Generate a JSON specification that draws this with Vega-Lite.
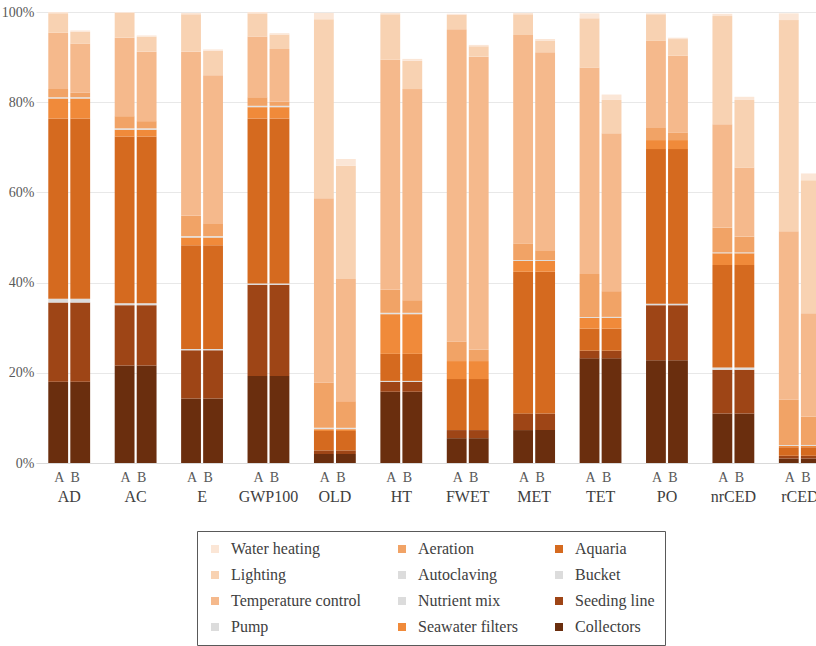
{
  "$schema": "https://vega.github.io/schema/vega-lite/v6.json",
  "autosize": {"type": "none"},
  "padding": {"left": 36, "top": 12, "right": 0, "bottom": 183},
  "width": 797,
  "height": 451,
  "config": {"view": {"stroke": null}, "font": "Liberation Serif"},
  "datasets": {
    "ord": [
      {"comp": "Collectors", "k": 1},
      {"comp": "Seeding line", "k": 2},
      {"comp": "Bucket", "k": 3},
      {"comp": "Aquaria", "k": 4},
      {"comp": "Seawater filters", "k": 5},
      {"comp": "Nutrient mix", "k": 6},
      {"comp": "Autoclaving", "k": 7},
      {"comp": "Aeration", "k": 8},
      {"comp": "Pump", "k": 9},
      {"comp": "Temperature control", "k": 10},
      {"comp": "Lighting", "k": 11},
      {"comp": "Water heating", "k": 12}
    ]
  },
  "data": {
    "values": [
      {"cat": "AD", "scen": "A", "Collectors": 18.0, "Seeding line": 17.6, "Bucket": 0.8, "Aquaria": 40.0, "Seawater filters": 4.4, "Nutrient mix": 0.2, "Autoclaving": 0.1, "Aeration": 1.8, "Pump": 0, "Temperature control": 12.5, "Lighting": 4.3, "Water heating": 0.3},
      {"cat": "AD", "scen": "B", "Collectors": 18.0, "Seeding line": 17.6, "Bucket": 0.8, "Aquaria": 40.0, "Seawater filters": 4.4, "Nutrient mix": 0.2, "Autoclaving": 0.1, "Aeration": 1.0, "Pump": 0, "Temperature control": 10.9, "Lighting": 2.6, "Water heating": 0.3},
      {"cat": "AC", "scen": "A", "Collectors": 21.6, "Seeding line": 13.4, "Bucket": 0.4, "Aquaria": 37.0, "Seawater filters": 1.5, "Nutrient mix": 0.2, "Autoclaving": 0.1, "Aeration": 2.7, "Pump": 0, "Temperature control": 17.4, "Lighting": 5.5, "Water heating": 0.2},
      {"cat": "AC", "scen": "B", "Collectors": 21.6, "Seeding line": 13.4, "Bucket": 0.4, "Aquaria": 37.0, "Seawater filters": 1.5, "Nutrient mix": 0.2, "Autoclaving": 0.1, "Aeration": 1.6, "Pump": 0, "Temperature control": 15.4, "Lighting": 3.3, "Water heating": 0.3},
      {"cat": "E", "scen": "A", "Collectors": 14.3, "Seeding line": 10.7, "Bucket": 0.3, "Aquaria": 23.0, "Seawater filters": 1.7, "Nutrient mix": 0.2, "Autoclaving": 0.1, "Aeration": 4.5, "Pump": 0, "Temperature control": 36.4, "Lighting": 8.3, "Water heating": 0.3},
      {"cat": "E", "scen": "B", "Collectors": 14.3, "Seeding line": 10.7, "Bucket": 0.3, "Aquaria": 23.0, "Seawater filters": 1.7, "Nutrient mix": 0.2, "Autoclaving": 0.1, "Aeration": 2.7, "Pump": 0, "Temperature control": 33.0, "Lighting": 5.4, "Water heating": 0.3},
      {"cat": "GWP100", "scen": "A", "Collectors": 19.3, "Seeding line": 20.2, "Bucket": 0.3, "Aquaria": 36.6, "Seawater filters": 2.5, "Nutrient mix": 0.2, "Autoclaving": 0.1, "Aeration": 1.9, "Pump": 0, "Temperature control": 13.4, "Lighting": 5.2, "Water heating": 0.3},
      {"cat": "GWP100", "scen": "B", "Collectors": 19.3, "Seeding line": 20.2, "Bucket": 0.3, "Aquaria": 36.6, "Seawater filters": 2.5, "Nutrient mix": 0.2, "Autoclaving": 0.1, "Aeration": 0.9, "Pump": 0, "Temperature control": 11.7, "Lighting": 3.2, "Water heating": 0.3},
      {"cat": "OLD", "scen": "A", "Collectors": 2.0, "Seeding line": 0.8, "Bucket": 0, "Aquaria": 4.3, "Seawater filters": 0.4, "Nutrient mix": 0.2, "Autoclaving": 0.1, "Aeration": 10.0, "Pump": 0, "Temperature control": 40.9, "Lighting": 39.7, "Water heating": 1.4},
      {"cat": "OLD", "scen": "B", "Collectors": 2.0, "Seeding line": 0.8, "Bucket": 0, "Aquaria": 4.3, "Seawater filters": 0.4, "Nutrient mix": 0.2, "Autoclaving": 0.1, "Aeration": 5.9, "Pump": 0, "Temperature control": 27.1, "Lighting": 25.1, "Water heating": 1.5},
      {"cat": "HT", "scen": "A", "Collectors": 15.8, "Seeding line": 2.2, "Bucket": 0.2, "Aquaria": 6.0, "Seawater filters": 8.8, "Nutrient mix": 0.2, "Autoclaving": 0.1, "Aeration": 5.1, "Pump": 0, "Temperature control": 51.0, "Lighting": 10.1, "Water heating": 0.3},
      {"cat": "HT", "scen": "B", "Collectors": 15.8, "Seeding line": 2.2, "Bucket": 0.2, "Aquaria": 6.0, "Seawater filters": 8.8, "Nutrient mix": 0.2, "Autoclaving": 0.1, "Aeration": 2.8, "Pump": 0, "Temperature control": 46.8, "Lighting": 6.3, "Water heating": 0.4},
      {"cat": "FWET", "scen": "A", "Collectors": 5.5, "Seeding line": 1.8, "Bucket": 0, "Aquaria": 11.3, "Seawater filters": 4.0, "Nutrient mix": 0, "Autoclaving": 0, "Aeration": 4.3, "Pump": 0, "Temperature control": 69.3, "Lighting": 3.2, "Water heating": 0.2},
      {"cat": "FWET", "scen": "B", "Collectors": 5.5, "Seeding line": 1.8, "Bucket": 0, "Aquaria": 11.3, "Seawater filters": 4.0, "Nutrient mix": 0, "Autoclaving": 0, "Aeration": 2.5, "Pump": 0, "Temperature control": 65.0, "Lighting": 2.3, "Water heating": 0.3},
      {"cat": "MET", "scen": "A", "Collectors": 7.3, "Seeding line": 3.7, "Bucket": 0, "Aquaria": 31.4, "Seawater filters": 2.4, "Nutrient mix": 0.2, "Autoclaving": 0, "Aeration": 3.7, "Pump": 0, "Temperature control": 46.2, "Lighting": 4.6, "Water heating": 0.3},
      {"cat": "MET", "scen": "B", "Collectors": 7.3, "Seeding line": 3.7, "Bucket": 0, "Aquaria": 31.4, "Seawater filters": 2.4, "Nutrient mix": 0.2, "Autoclaving": 0, "Aeration": 2.2, "Pump": 0, "Temperature control": 43.9, "Lighting": 2.6, "Water heating": 0.3},
      {"cat": "TET", "scen": "A", "Collectors": 23.2, "Seeding line": 1.7, "Bucket": 0, "Aquaria": 4.9, "Seawater filters": 2.4, "Nutrient mix": 0.2, "Autoclaving": 0, "Aeration": 9.5, "Pump": 0, "Temperature control": 45.8, "Lighting": 10.9, "Water heating": 1.1},
      {"cat": "TET", "scen": "B", "Collectors": 23.2, "Seeding line": 1.7, "Bucket": 0, "Aquaria": 4.9, "Seawater filters": 2.4, "Nutrient mix": 0.2, "Autoclaving": 0, "Aeration": 5.7, "Pump": 0, "Temperature control": 35.0, "Lighting": 7.4, "Water heating": 1.2},
      {"cat": "PO", "scen": "A", "Collectors": 22.8, "Seeding line": 12.2, "Bucket": 0.3, "Aquaria": 34.3, "Seawater filters": 2.0, "Nutrient mix": 0, "Autoclaving": 0, "Aeration": 2.7, "Pump": 0, "Temperature control": 19.3, "Lighting": 5.9, "Water heating": 0.2},
      {"cat": "PO", "scen": "B", "Collectors": 22.8, "Seeding line": 12.2, "Bucket": 0.3, "Aquaria": 34.3, "Seawater filters": 2.0, "Nutrient mix": 0, "Autoclaving": 0, "Aeration": 1.7, "Pump": 0, "Temperature control": 17.0, "Lighting": 3.7, "Water heating": 0.3},
      {"cat": "nrCED", "scen": "A", "Collectors": 11.0, "Seeding line": 9.7, "Bucket": 0.5, "Aquaria": 22.7, "Seawater filters": 2.6, "Nutrient mix": 0.2, "Autoclaving": 0, "Aeration": 5.5, "Pump": 0, "Temperature control": 22.9, "Lighting": 24.0, "Water heating": 0.5},
      {"cat": "nrCED", "scen": "B", "Collectors": 11.0, "Seeding line": 9.7, "Bucket": 0.5, "Aquaria": 22.7, "Seawater filters": 2.6, "Nutrient mix": 0.2, "Autoclaving": 0, "Aeration": 3.5, "Pump": 0, "Temperature control": 15.3, "Lighting": 15.0, "Water heating": 0.7},
      {"cat": "rCED", "scen": "A", "Collectors": 1.0, "Seeding line": 0.6, "Bucket": 0, "Aquaria": 1.9, "Seawater filters": 0.3, "Nutrient mix": 0.2, "Autoclaving": 0, "Aeration": 10.0, "Pump": 0, "Temperature control": 37.4, "Lighting": 46.8, "Water heating": 1.5},
      {"cat": "rCED", "scen": "B", "Collectors": 1.0, "Seeding line": 0.6, "Bucket": 0, "Aquaria": 1.9, "Seawater filters": 0.3, "Nutrient mix": 0.2, "Autoclaving": 0, "Aeration": 6.3, "Pump": 0, "Temperature control": 22.9, "Lighting": 29.5, "Water heating": 1.5}
    ]
  },
  "encoding": {
    "x": {
      "field": "cat",
      "type": "nominal",
      "sort": ["AD", "AC", "E", "GWP100", "OLD", "HT", "FWET", "MET", "TET", "PO", "nrCED", "rCED"],
      "scale": {"paddingInner": 0.37, "paddingOuter": 0.185},
      "axis": {
        "title": null,
        "labelAngle": 0,
        "ticks": false,
        "domainColor": "#D9D9D9",
        "domainWidth": 1,
        "labelPadding": 25,
        "labelBaseline": "top",
        "labelFontSize": 16,
        "labelColor": "#404040",
        "labelFont": "Liberation Serif"
      }
    },
    "xOffset": {"field": "scen", "type": "nominal", "scale": {"paddingInner": 0.1}}
  },
  "layer": [
    {
      "transform": [
        {"fold": ["Collectors", "Seeding line", "Bucket", "Aquaria", "Seawater filters", "Nutrient mix", "Autoclaving", "Aeration", "Pump", "Temperature control", "Lighting", "Water heating"], "as": ["comp", "v"]},
        {"lookup": "comp", "from": {"data": {"name": "ord"}, "key": "comp", "fields": ["k"]}}
      ],
      "mark": {"type": "bar"},
      "encoding": {
        "y": {
          "field": "v",
          "type": "quantitative",
          "stack": "zero",
          "scale": {"domain": [0, 100]},
          "axis": {
            "title": null,
            "values": [0, 20, 40, 60, 80, 100],
            "labelExpr": "datum.value + '%'",
            "domain": false,
            "ticks": false,
            "labelPadding": 2,
            "labelFontSize": 14,
            "labelColor": "#595959",
            "labelFont": "Liberation Serif",
            "gridColor": "#E8E8E8"
          }
        },
        "color": {
          "field": "comp",
          "type": "nominal",
          "scale": {
            "domain": ["Water heating", "Lighting", "Temperature control", "Pump", "Aeration", "Autoclaving", "Nutrient mix", "Seawater filters", "Aquaria", "Bucket", "Seeding line", "Collectors"],
            "range": ["#FBE6D6", "#F8D2B2", "#F5B98C", "#DCDCDC", "#F1A366", "#DCDCDC", "#DCDCDC", "#F08A3A", "#D56A1F", "#DCDCDC", "#9E4516", "#6A2E0E"]
          },
          "legend": {
            "title": null,
            "orient": "none",
            "legendX": 161,
            "legendY": 519,
            "columns": 3,
            "symbolType": "square",
            "symbolSize": 64,
            "symbolStrokeWidth": 0,
            "labelFontSize": 16,
            "labelFont": "Liberation Serif",
            "labelColor": "#404040",
            "labelOffset": 8,
            "rowPadding": 10,
            "columnPadding": 33,
            "padding": 10,
            "strokeColor": "#595959",
            "fillColor": "white"
          }
        },
        "order": {"field": "k", "type": "quantitative"}
      }
    },
    {
      "transform": [{"filter": "datum.scen === 'A'"}],
      "mark": {"type": "text", "baseline": "top", "dy": 8, "dx": 1, "fontSize": 14, "color": "#595959", "font": "Liberation Serif"},
      "encoding": {
        "y": {"datum": 0},
        "text": {"field": "scen"}
      }
    },
    {
      "transform": [{"filter": "datum.scen === 'B'"}],
      "mark": {"type": "text", "baseline": "top", "dy": 8, "dx": -5, "fontSize": 14, "color": "#595959", "font": "Liberation Serif"},
      "encoding": {
        "y": {"datum": 0},
        "text": {"field": "scen"}
      }
    }
  ]
}
